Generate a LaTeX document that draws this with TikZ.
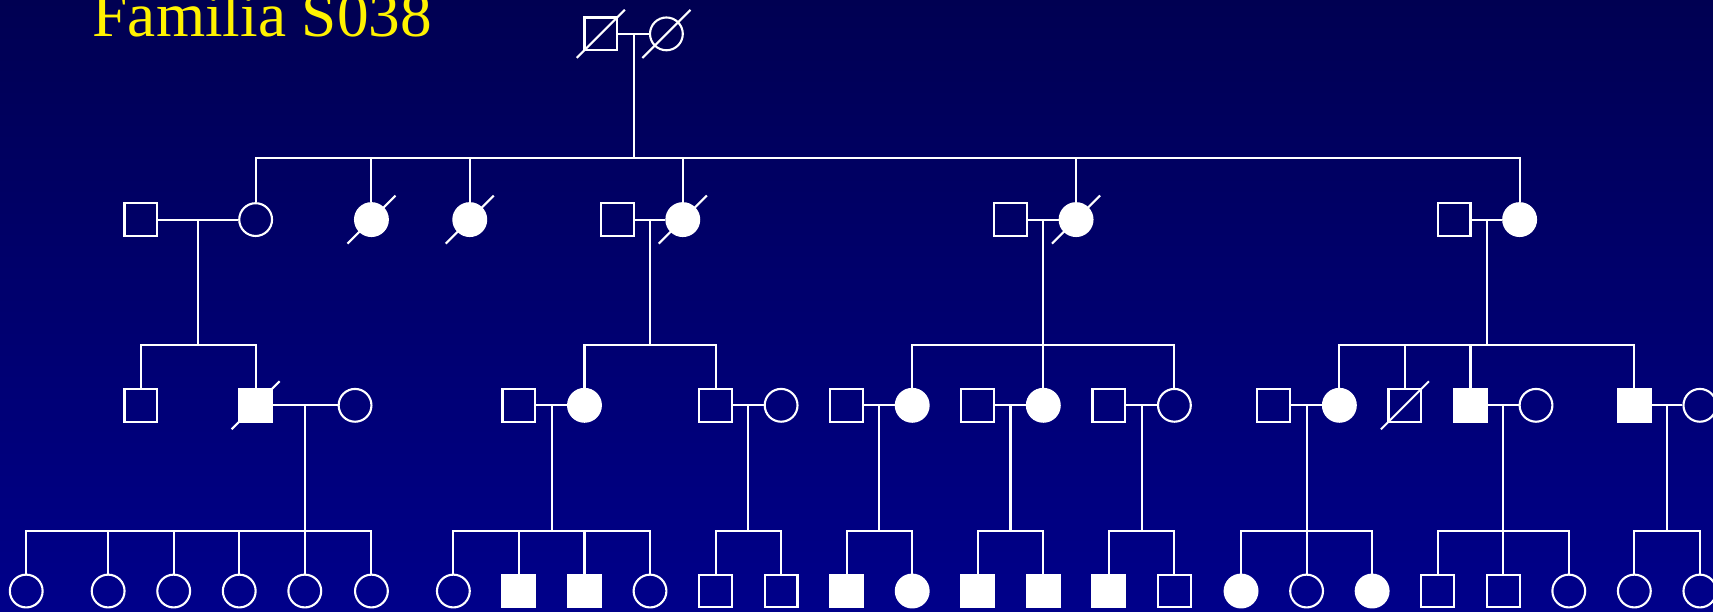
\documentclass[tikz,border=0pt]{standalone}
\usepackage{fontspec}
\setmainfont{Liberation Serif}
\usetikzlibrary{calc}

\definecolor{bgtop}{RGB}{0,0,82}
\definecolor{bgbot}{RGB}{0,0,138}
\newcommand{\sz}{3.28mm}
% slash through a deceased person
\newcommand{\deceased}[1]{\draw (#1.center) ++(-22,22) -- ++(44,-44);}

\tikzset{
  man/.style={draw, rectangle, minimum size=\sz, inner sep=0pt},
  woman/.style={draw, circle, minimum size=\sz, inner sep=0pt},
  manA/.style={man, fill=white},
  womanA/.style={woman, fill=white},
  heading/.style={text=yellow, font=\fontsize{18}{20}\selectfont, inner sep=0pt}
}

\begin{document}
\begin{tikzpicture}[x=0.10925mm, y=-0.10925mm, line width=0.6pt, white]
\useasboundingbox (0,0) rectangle (1568,560);
\clip (0,0) rectangle (1568,560);
\shade[top color=bgtop, bottom color=bgbot] (0,0) rectangle (1568,560);

\node[heading, anchor=base west] (title) at (84,33) {Familia S038};

% generation I
\node[man] (I1) at (550,31) {};
\node[woman] (I2) at (610,31) {};
\deceased{I1} \deceased{I2}
\draw (I1.east) -- (I2.west);
\coordinate (mI) at ($(I1)!.5!(I2)$);
\draw (mI) -- (mI |- 0,145);

% generation II
\foreach \n/\x/\s in {1/129/man, 2/234/woman, 3/340/womanA, 4/430/womanA,
    5/565/man, 6/625/womanA, 7/925/man, 8/985/womanA, 9/1331/man, 10/1391/womanA}
  \node[\s] (II\n) at (\x,201) {};
\deceased{II3} \deceased{II4} \deceased{II6} \deceased{II8}

\draw (II2.north) |- (II10.north |- 0,145) -- (II10.north);
\foreach \n in {3,4,6,8}
  \draw (II\n.north) -- (II\n.north |- 0,145);

\foreach \a/\b in {1/2, 5/6, 7/8, 9/10} {
  \draw (II\a.east) -- (II\b.west);
  \coordinate (mII\a) at ($(II\a)!.5!(II\b)$);
  \draw (mII\a) -- (mII\a |- 0,316);
}

% generation III
\foreach \n/\x/\s in {1/129/man, 2/234/manA, 3/325/woman, 4/475/man, 5/535/womanA,
    6/655/man, 7/715/woman, 8/775/man, 9/835/womanA, 10/895/man, 11/955/womanA,
    12/1015/man, 13/1075/woman, 14/1166/man, 15/1226/womanA, 16/1286/man,
    17/1346/manA, 18/1406/woman, 19/1496/manA, 20/1556/woman}
  \node[\s] (III\n) at (\x,371) {};
\deceased{III2} \deceased{III16}

\draw (III1.north) |- (III2.north |- 0,316) -- (III2.north);
\draw (III5.north) |- (III6.north |- 0,316) -- (III6.north);
\draw (III9.north) |- (III13.north |- 0,316) -- (III13.north);
\draw (III11.north) -- (III11.north |- 0,316);
\draw (III15.north) |- (III19.north |- 0,316) -- (III19.north);
\foreach \n in {16,17}
  \draw (III\n.north) -- (III\n.north |- 0,316);

\foreach \a/\b in {2/3, 4/5, 6/7, 8/9, 10/11, 12/13, 14/15, 17/18, 19/20} {
  \draw (III\a.east) -- (III\b.west);
  \coordinate (mIII\a) at ($(III\a)!.5!(III\b)$);
  \draw (mIII\a) -- (mIII\a |- 0,486);
}

% generation IV
\foreach \n/\x/\s in {1/24/woman, 2/99/woman, 3/159/woman, 4/219/woman, 5/279/woman,
    6/340/woman, 7/415/woman, 8/475/manA, 9/535/manA, 10/595/woman, 11/655/man,
    12/715/man, 13/775/manA, 14/835/womanA, 15/895/manA, 16/955/manA, 17/1015/manA,
    18/1075/man, 19/1136/womanA, 20/1196/woman, 21/1256/womanA, 22/1316/man,
    23/1376/man, 24/1436/woman, 25/1496/woman, 26/1556/woman}
  \node[\s] (IV\n) at (\x,541) {};

\foreach \a/\b in {1/6, 7/10, 11/12, 13/14, 15/16, 17/18, 19/21, 22/24, 25/26}
  \draw (IV\a.north) |- (IV\b.north |- 0,486) -- (IV\b.north);
\foreach \n in {2,3,4,5,8,9,20,23}
  \draw (IV\n.north) -- (IV\n.north |- 0,486);
\end{tikzpicture}
\end{document}
